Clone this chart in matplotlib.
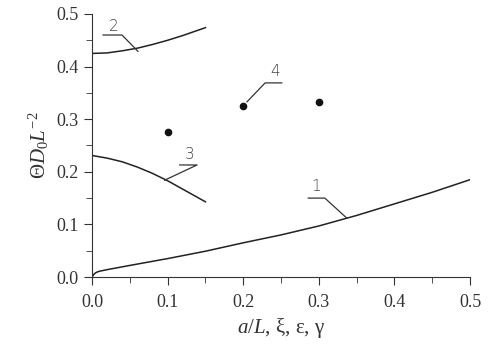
import matplotlib
matplotlib.use("Agg")
import matplotlib.pyplot as plt
from matplotlib.ticker import MultipleLocator

plt.rcParams['font.family'] = 'Liberation Serif'
plt.rcParams['mathtext.fontset'] = 'custom'
plt.rcParams['mathtext.rm'] = 'Liberation Serif'
plt.rcParams['mathtext.it'] = 'Liberation Serif:italic'

# ---- data ----
x1 = [0, 0.003, 0.006, 0.01, 0.02, 0.05, 0.1, 0.15, 0.2, 0.25, 0.3, 0.35, 0.4, 0.45, 0.5]
y1 = [0, 0.006, 0.009, 0.011, 0.014, 0.022, 0.035, 0.049, 0.065, 0.080, 0.097, 0.117, 0.139, 0.161, 0.185]

x2 = [0, 0.02, 0.04, 0.06, 0.08, 0.1, 0.12, 0.15]
y2 = [0.425, 0.426, 0.430, 0.435, 0.442, 0.450, 0.459, 0.474]

x3 = [0, 0.02, 0.04, 0.06, 0.08, 0.1, 0.12, 0.15]
y3 = [0.231, 0.226, 0.219, 0.209, 0.197, 0.183, 0.167, 0.143]

x4 = [0.1, 0.2, 0.3]
y4 = [0.275, 0.325, 0.332]

# leader lines: (text pos, horizontal start, horizontal end, tip)
labels = [
    ("1", (0.297, 0.172), (0.286, 0.150), (0.308, 0.150), (0.337, 0.112)),
    ("2", (0.029, 0.476), (0.0146, 0.460), (0.0397, 0.460), (0.0608, 0.429)),
    ("3", (0.129, 0.233), (0.116, 0.213), (0.139, 0.213), (0.096, 0.184)),
    ("4", (0.242, 0.391), (0.251, 0.369), (0.229, 0.369), (0.205, 0.333)),
]

fig = plt.figure(figsize=(5, 3.54), dpi=100)
ax = fig.add_axes([0.184, 0.2175, 0.756, 0.743])

ax.plot(x1, y1, color='#222222', lw=1.1)
ax.plot(x2, y2, color='#222222', lw=1.1)
ax.plot(x3, y3, color='#222222', lw=1.1)
ax.plot(x4, y4, 'o', color='#111111', ms=4.5, clip_on=False)

for txt, tp, h0, h1, tip in labels:
    ax.plot([h0[0], h1[0], tip[0]], [h0[1], h1[1], tip[1]], color='#333333', lw=0.9)
    ax.text(tp[0], tp[1], txt, ha='center', va='center', fontsize=11,
            family='DejaVu Sans', color='#444444', fontweight='light')

ax.set_xlim(0, 0.5)
ax.set_ylim(0, 0.5)
ax.spines['top'].set_visible(False)
ax.spines['right'].set_visible(False)
ax.spines['left'].set_color('#333333')
ax.spines['bottom'].set_color('#333333')
ax.xaxis.set_major_locator(MultipleLocator(0.1))
ax.xaxis.set_minor_locator(MultipleLocator(0.05))
ax.yaxis.set_major_locator(MultipleLocator(0.1))
ax.yaxis.set_minor_locator(MultipleLocator(0.05))
ax.xaxis.set_major_formatter(plt.FormatStrFormatter('%.1f'))
ax.yaxis.set_major_formatter(plt.FormatStrFormatter('%.1f'))
ax.tick_params(which='both', direction='out', color='#333333', labelcolor='#333333',
               labelsize=13)
ax.tick_params(which='major', length=6)
ax.tick_params(which='minor', length=4)
ax.tick_params(axis='x', which='major', pad=6)

ax.set_xlabel(r'$a/L$, ξ, ε, γ', fontsize=15, color='#333333')
ax.set_ylabel(r'$\Theta D_0 L^{-2}$', fontsize=15, color='#333333')

fig.savefig('out.png', dpi=100)
